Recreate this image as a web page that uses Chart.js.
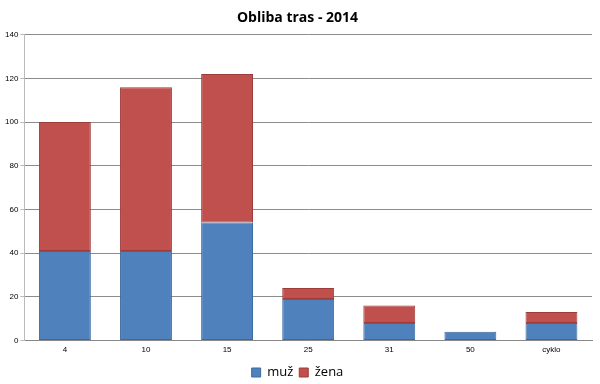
<!DOCTYPE html>
<html>
<head>
<meta charset="utf-8">
<script src="https://cdn.jsdelivr.net/npm/chart.js@4/dist/chart.umd.min.js"></script>
<style>
  html, body { margin: 0; padding: 0; background: #fff; }
  #wrap { width: 600px; height: 384px; }
</style>
</head>
<body>
<div id="wrap"><canvas id="chart"></canvas></div>
<script>
// trasy a počty účastníků
const categories = ['4', '10', '15', '25', '31', '50', 'cyklo'];
const muz = [41, 41, 54, 19, 8, 4, 8];
const zena = [59, 75, 68, 5, 8, 0, 5];
const yTicks = [0, 20, 40, 60, 80, 100, 120, 140];

new Chart(document.getElementById('chart'), {
    type: 'bar',
    data: {
        labels: categories,
        datasets: [
            {
                label: 'muž',
                data: muz,
                backgroundColor: '#4F81BD',
                borderColor: '#3C6A9E',
                borderWidth: 1,
                borderSkipped: false
            },
            {
                label: 'žena',
                data: zena,
                backgroundColor: '#C0504D',
                borderColor: '#9E3C3A',
                borderWidth: 1,
                borderSkipped: false
            }
        ]
    },
    options: {
        responsive: true,
        maintainAspectRatio: false,
        animation: false,
        datasets: {
            bar: { categoryPercentage: 0.64, barPercentage: 1 }
        },
        layout: { padding: { left: 3, right: 8, top: 0, bottom: -5 } },
        plugins: {
            title: {
                display: true,
                text: 'Obliba tras - 2014',
                color: '#000',
                font: { family: 'Open Sans', size: 14, weight: 'bold' },
                padding: { top: 10, bottom: 8 }
            },
            legend: {
                position: 'bottom',
                labels: {
                    color: '#000',
                    boxWidth: 9,
                    boxHeight: 9,
                    padding: 6,
                    font: { family: 'Open Sans', size: 13 }
                }
            },
            tooltip: { enabled: false }
        },
        scales: {
            x: {
                stacked: true,
                grid: { display: false, drawTicks: false },
                border: { color: '#888', width: 1 },
                ticks: {
                    color: '#000',
                    padding: 5,
                    font: { family: 'Liberation Sans', size: 8 }
                }
            },
            y: {
                stacked: true,
                min: 0,
                max: 140,
                afterBuildTicks: axis => { axis.ticks = yTicks.map(v => ({ value: v })); },
                grid: { color: '#8c8c8c', tickLength: 4, tickColor: '#bbb' },
                border: { color: '#bbb', width: 1 },
                ticks: {
                    color: '#000',
                    padding: 2,
                    font: { family: 'Liberation Sans', size: 8 }
                }
            }
        }
    }
});
</script>
</body>
</html>
